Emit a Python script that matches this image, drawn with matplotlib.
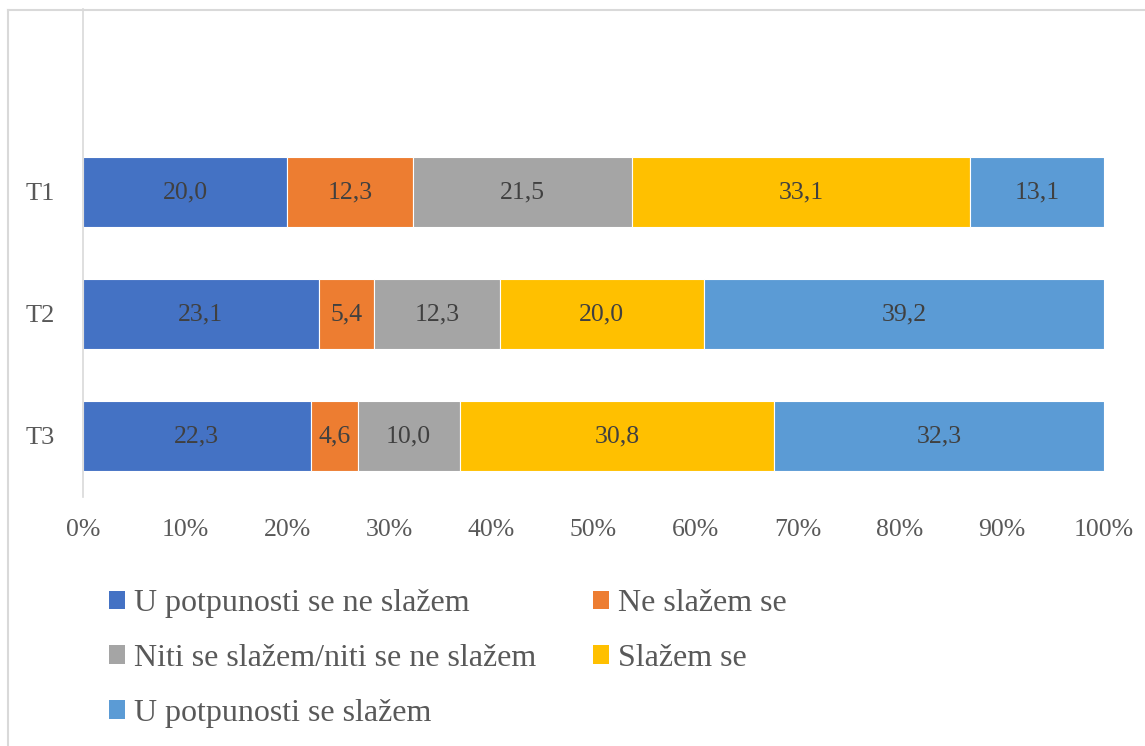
import matplotlib.pyplot as plt
import numpy as np
from matplotlib.lines import Line2D
from matplotlib.patches import Patch

# Data
groups = ['T1', 'T2', 'T3']
answers = ['U potpunosti se ne slažem', 'Ne slažem se',
           'Niti se slažem/niti se ne slažem', 'Slažem se',
           'U potpunosti se slažem']
disagree_full = [20.0, 23.1, 22.3]
disagree = [12.3, 5.4, 4.6]
neutral = [21.5, 12.3, 10.0]
agree = [33.1, 20.0, 30.8]
agree_full = [13.1, 39.2, 32.3]
x_ticks = [0, 10, 20, 30, 40, 50, 60, 70, 80, 90, 100]

colors = ['#4472C4', '#ED7D31', '#A5A5A5', '#FFC000', '#5B9BD5']

plt.rcParams['font.family'] = ['Liberation Serif', 'DejaVu Serif']

W, H = 1145, 746
fig = plt.figure(figsize=(W / 100, H / 100), dpi=100)
ax = fig.add_axes([83 / W, 1 - 497 / H, (1104 - 83) / W, (497 - 9) / H])

series = [disagree_full, disagree, neutral, agree, agree_full]
y = np.arange(len(groups))
left = np.zeros(len(groups))
handles = []
for vals, col, name in zip(series, colors, answers):
    vals = np.array(vals)
    ax.barh(y, vals, left=left, height=0.575, color=col,
            edgecolor='white', linewidth=0.8, label=name)
    for yi, l, v in zip(y, left, vals):
        ax.text(l + v / 2, yi, f'{v:.1f}'.replace('.', ','),
                ha='center', va='center', fontsize=18.5, color='#404040')
    left += vals
    handles.append(Patch(facecolor=col, label=name))

ax.set_xlim(0, 100)
ax.set_ylim(2.5, -1.5)
ax.set_yticks(y)
ax.set_yticklabels(groups)
ax.set_xticks(x_ticks)
ax.set_xticklabels([f'{t}%' for t in x_ticks])
ax.tick_params(axis='both', length=0, labelcolor='#595959')
ax.tick_params(axis='x', pad=16, labelsize=18.5)
ax.tick_params(axis='y', pad=20, labelsize=19)
for s in ['top', 'right', 'bottom']:
    ax.spines[s].set_visible(False)
ax.spines['left'].set_color('#d9d9d9')
ax.spines['left'].set_linewidth(1.2)

# legend: two columns, filled row by row like the original
order = [0, 2, 4, 1, 3]
leg = fig.legend([handles[i] for i in order], [answers[i] for i in order],
                 ncol=2, loc='upper left', bbox_to_anchor=(109 / W, 1 - 589 / H),
                 frameon=False, fontsize=23, handlelength=0.5, handleheight=0.5,
                 handletextpad=0.28, columnspacing=1.78, labelspacing=0.81,
                 borderpad=0, borderaxespad=0, labelcolor='#595959')

# chart border
fig.add_artist(Line2D([8 / W, 1], [1 - 10 / H, 1 - 10 / H], color='#d9d9d9', lw=1.5))
fig.add_artist(Line2D([8 / W, 8 / W], [0, 1 - 10 / H], color='#d9d9d9', lw=1.5))

fig.savefig('out.png', dpi=100)
